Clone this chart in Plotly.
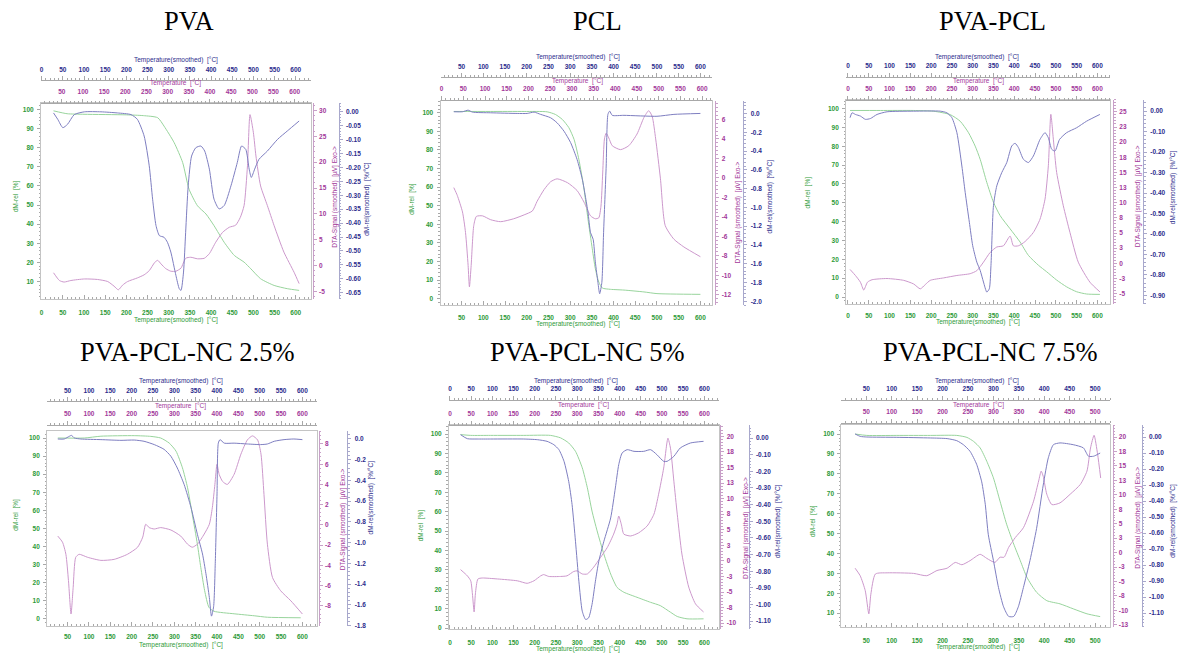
import math
import plotly.graph_objects as go

# ---------------- data ----------------
TITLES = ["PVA", "PCL", "PVA-PCL", "PVA-PCL-NC 2.5%", "PVA-PCL-NC 5%", "PVA-PCL-NC 7.5%"]

# PVA
PVA_TGA_T = [28, 60, 100, 200, 240, 274, 289, 313, 333, 348, 368, 388, 407, 431, 455, 478, 494, 517, 549, 580, 608]
PVA_TGA = [99.3, 97.8, 97.5, 97.2, 96.8, 95.7, 91.3, 82.6, 72.2, 58.3, 49.6, 45.3, 39.2, 30.5, 23.6, 20.1, 16.6, 11.4, 7.9, 6.2, 5.3]
PVA_DTA_T = [28, 42, 53, 69, 101, 132, 156, 171, 181, 191, 203, 226, 242, 254, 267, 274, 282, 293, 305, 317, 329, 340, 352, 368,
             384, 396, 411, 427, 443, 458, 469, 478, 486, 492, 500, 506, 517, 533, 549, 572, 596, 608]
PVA_DTA = [-1.4, -2.9, -3.2, -2.9, -2.6, -2.7, -3.1, -4.0, -4.7, -3.8, -3.1, -2.4, -1.8, -1.0, 0.6, 1.0, 0.3, -0.6, -1.1, -1.1,
           -0.5, 1.4, 1.6, 1.3, 1.4, 2.3, 4.5, 6.4, 7.4, 7.8, 9.3, 11.6, 19.3, 29.2, 25.7, 21.2, 15.4, 11.6, 7.7, 2.6, -1.3, -3.5]
PVA_DTG_T = [28, 38, 50, 61, 77, 101, 140, 179, 211, 226, 242, 254, 262, 270, 278, 289, 297, 305, 317, 325, 329, 335, 340, 346,
             354, 364, 376, 385, 396, 407, 419, 431, 447, 462, 472, 482, 490, 495, 503, 513, 533, 557, 580, 608]
PVA_DTG = [-0.004, -0.027, -0.057, -0.045, -0.010, 0.0, 0.0, -0.004, -0.010, -0.027, -0.087, -0.194, -0.314, -0.409, -0.445,
           -0.451, -0.469, -0.504, -0.588, -0.636, -0.642, -0.576, -0.433, -0.266, -0.159, -0.129, -0.123, -0.141, -0.206,
           -0.314, -0.349, -0.337, -0.266, -0.182, -0.123, -0.135, -0.206, -0.236, -0.206, -0.171, -0.141, -0.099, -0.069, -0.033]

# PCL
PCL_TGA_T = [32, 117, 194, 247, 266, 282, 297, 309, 320, 332, 341, 351, 358, 366, 374, 393, 424, 470, 500, 600]
PCL_TGA = [100.7, 100.7, 100.7, 100.5, 99.1, 96.4, 92.0, 85.7, 75.0, 58.9, 42.9, 26.8, 16.1, 8.9, 5.7, 5.0, 4.6, 3.6, 2.7, 2.3]
PCL_DTA_T = [32, 40, 52, 59, 65, 68, 72, 78, 84, 98, 117, 140, 170, 194, 213, 224, 240, 255, 270, 294, 316, 332, 347, 358, 366,
             371, 375, 379, 383, 389, 397, 416, 435, 454, 470, 481, 489, 497, 508, 519, 539, 562, 600]
PCL_DTA = [-1.0, -1.8, -3.5, -5.6, -9.0, -11.2, -9.0, -4.9, -3.96, -3.9, -4.3, -4.5, -4.2, -3.8, -3.4, -2.4, -1.2, -0.4, -0.1,
           -0.5, -1.3, -2.5, -3.9, -4.2, -4.1, -2.9, 0.5, 4.0, 4.6, 4.1, 3.3, 2.9, 3.3, 4.5, 6.2, 6.9, 6.3, 4.0, -0.1, -4.9,
           -6.3, -7.1, -8.1]
PCL_DTG_T = [32, 52, 65, 75, 117, 178, 201, 217, 232, 255, 270, 286, 301, 316, 328, 335, 341, 347, 353, 358, 364, 368, 373, 377,
             383, 387, 391, 397, 424, 500, 539, 600]
PCL_DTG = [0.018, 0.018, 0.035, 0.014, 0.007, 0.0, 0.0, 0.014, -0.010, -0.046, -0.10, -0.19, -0.31, -0.49, -0.70, -0.88, -1.05,
           -1.27, -1.34, -1.58, -1.80, -1.92, -1.80, -1.27, -0.56, -0.01, 0.025, -0.02, -0.02, -0.03, -0.01, 0.0]

# PVA-PCL
PP_TGA_T = [5, 78, 158, 206, 246, 270, 290, 306, 318, 334, 350, 366, 390, 414, 434, 458, 478, 502, 526, 550, 574, 606]
PP_TGA = [99.0, 99.0, 99.0, 98.6, 96.8, 93.3, 87.2, 80.1, 73.1, 60.8, 50.3, 43.2, 36.2, 29.2, 22.1, 16.9, 13.4, 9.0, 5.4, 2.8,
          1.6, 1.4]
PP_DTA_T = [5, 18, 30, 38, 47, 58, 94, 134, 158, 174, 186, 198, 230, 262, 294, 310, 326, 342, 358, 374, 390, 398, 410, 426, 446,
            462, 474, 482, 488, 494, 502, 518, 534, 554, 582, 606]
PP_DTA = [-1.0, -2.0, -3.1, -4.4, -3.1, -2.7, -2.5, -2.8, -3.4, -4.2, -3.5, -2.8, -2.4, -2.0, -1.7, -1.2, 0.2, 1.8, 2.7, 2.9,
          4.5, 2.9, 2.9, 3.6, 5.1, 7.3, 10.6, 16.1, 24.6, 20.5, 15.0, 9.5, 5.1, 0.2, -3.1, -4.7]
PP_DTG_T = [5, 10, 18, 30, 42, 54, 70, 94, 158, 222, 238, 250, 262, 274, 282, 292, 300, 310, 318, 326, 334, 340, 344, 350, 358,
            370, 382, 394, 402, 410, 422, 434, 446, 462, 474, 482, 490, 498, 509, 526, 550, 574, 606]
PP_DTG = [-0.032, -0.008, -0.016, -0.024, -0.040, -0.036, -0.016, -0.003, 0.0, 0.0, -0.008, -0.032, -0.105, -0.268, -0.397,
          -0.543, -0.657, -0.738, -0.778, -0.835, -0.884, -0.868, -0.754, -0.462, -0.365, -0.300, -0.251, -0.170, -0.157,
          -0.178, -0.235, -0.251, -0.219, -0.138, -0.105, -0.130, -0.186, -0.195, -0.138, -0.105, -0.081, -0.049, -0.016]

# PVA-PCL-NC 2.5%
NC25_TGA_T = [27, 89, 128, 206, 245, 268, 288, 304, 319, 331, 342, 354, 362, 371, 381, 393, 440, 487, 518, 596]
NC25_TGA = [100.0, 100.0, 101.0, 101.3, 100.9, 100.0, 97.2, 92.7, 83.5, 72.5, 57.8, 41.3, 28.4, 15.6, 6.4, 4.2, 2.8, 1.7, 0.9, 0.6]
NC25_DTA_T = [27, 38, 46, 52, 58, 63, 69, 77, 97, 128, 159, 190, 214, 226, 233, 241, 253, 268, 292, 315, 331, 342, 354, 370,
              382, 389, 395, 400, 405, 413, 424, 440, 456, 471, 483, 495, 503, 510, 518, 530, 549, 573, 600]
NC25_DTA = [-1.1, -1.7, -2.9, -5.5, -8.8, -6.2, -3.2, -2.9, -3.2, -3.5, -3.4, -2.9, -2.2, -1.2, 0.07, -0.26, -0.4, -0.26, -0.5,
            -1.1, -1.9, -2.2, -1.9, -0.9, 0.07, 1.7, 4.0, 6.0, 5.0, 4.3, 4.0, 5.0, 7.0, 8.4, 8.8, 8.4, 7.0, 3.0, -1.9, -5.2,
            -6.5, -7.5, -8.8]
NC25_DTG_T = [27, 42, 54, 59, 66, 81, 128, 175, 206, 229, 253, 276, 292, 307, 323, 339, 354, 366, 374, 382, 387, 392, 396, 400,
              403, 407, 417, 440, 471, 502, 518, 534, 557, 580, 600]
NC25_DTG = [0.0, 0.0, 0.026, 0.035, 0.010, 0.0, -0.006, -0.013, -0.010, -0.022, -0.054, -0.10, -0.167, -0.28, -0.44, -0.66,
            -0.92, -1.11, -1.30, -1.53, -1.71, -1.62, -1.18, -0.53, -0.04, -0.006, -0.04, -0.04, -0.048, -0.054, -0.048,
            -0.022, -0.006, 0.0, -0.006]

# PVA-PCL-NC 5%
NC5_TGA_T = [25, 49, 96, 174, 237, 261, 280, 296, 312, 324, 335, 347, 363, 379, 394, 410, 441, 473, 496, 520, 536, 559, 598]
NC5_TGA = [99.7, 99.3, 99.3, 99.3, 99.3, 98.0, 95.4, 91.1, 82.6, 72.3, 60.3, 50.1, 38.1, 27.9, 21.0, 18.5, 15.9, 13.3, 11.6, 8.2,
           6.0, 4.8, 4.8]
NC5_DTA_T = [25, 41, 49, 53, 57, 60, 66, 76, 112, 159, 182, 198, 214, 221, 233, 261, 276, 292, 300, 312, 324, 339, 355, 371,
             386, 394, 398, 404, 410, 426, 445, 465, 481, 492, 504, 514, 520, 528, 536, 547, 563, 579, 598]
NC5_DTA = [-1.4, -2.4, -3.2, -5.3, -8.2, -5.3, -2.9, -2.75, -2.9, -3.2, -3.6, -3.2, -2.4, -2.2, -2.5, -2.5, -2.4, -1.7, -1.6,
           -2.1, -2.1, -1.0, 0.55, 2.15, 4.3, 5.9, 7.2, 5.9, 4.3, 4.0, 4.5, 5.6, 7.5, 10.7, 14.9, 19.7, 18.1, 12.8, 7.5, 1.1,
           -4.2, -6.9, -8.2]
NC5_DTG_T = [25, 41, 64, 96, 174, 206, 229, 245, 257, 269, 280, 288, 296, 304, 312, 320, 327, 335, 343, 351, 363, 379, 390, 398,
             406, 418, 434, 457, 473, 488, 504, 512, 528, 543, 567, 598]
NC5_DTG = [0.02, -0.004, -0.006, -0.006, -0.006, -0.01, -0.02, -0.04, -0.07, -0.14, -0.26, -0.40, -0.62, -0.86, -1.04, -1.09,
           -1.08, -1.00, -0.86, -0.74, -0.62, -0.48, -0.30, -0.16, -0.09, -0.07, -0.08, -0.08, -0.07, -0.10, -0.14, -0.14,
           -0.11, -0.06, -0.03, -0.02]

# PVA-PCL-NC 7.5%
NC75_TGA_T = [28, 51, 110, 176, 228, 248, 261, 274, 287, 300, 313, 326, 340, 353, 366, 385, 405, 431, 457, 484, 510]
NC75_TGA = [100.0, 99.3, 99.3, 99.3, 99.3, 98.3, 96.3, 93.0, 86.3, 78.0, 66.3, 54.7, 44.7, 36.3, 28.0, 20.5, 16.3, 14.7, 12.2,
            9.7, 8.3]
NC75_DTA_T = [28, 38, 48, 55, 59, 68, 91, 143, 169, 189, 209, 225, 238, 254, 274, 287, 303, 313, 321, 330, 343, 359, 379, 389,
              394, 398, 405, 415, 431, 451, 471, 484, 491, 498, 505, 511]
NC75_DTA = [-2.7, -4.0, -6.6, -10.6, -7.2, -3.7, -3.5, -3.6, -4.0, -3.1, -2.7, -1.7, -2.1, -1.4, -0.3, -1.0, -1.7, -0.8, -0.8,
            0.9, 2.6, 4.3, 8.9, 12.4, 14.1, 13.2, 10.1, 8.3, 8.6, 10.1, 11.8, 14.1, 18.1, 20.3, 17.0, 12.9]
NC75_DTG_T = [28, 38, 51, 110, 176, 209, 228, 241, 254, 267, 277, 284, 290, 300, 310, 320, 330, 340, 349, 359, 372, 385, 398,
              408, 418, 431, 457, 477, 487, 497, 510]
NC75_DTG = [0.019, 0.004, 0.0, -0.002, -0.006, -0.01, -0.023, -0.048, -0.089, -0.17, -0.28, -0.42, -0.61, -0.77, -0.94, -1.06,
            -1.12, -1.12, -1.06, -0.94, -0.77, -0.57, -0.30, -0.13, -0.048, -0.037, -0.048, -0.068, -0.12, -0.12, -0.10]

SERIES = [
    (PVA_TGA_T, PVA_TGA, PVA_DTA_T, PVA_DTA, PVA_DTG_T, PVA_DTG),
    (PCL_TGA_T, PCL_TGA, PCL_DTA_T, PCL_DTA, PCL_DTG_T, PCL_DTG),
    (PP_TGA_T, PP_TGA, PP_DTA_T, PP_DTA, PP_DTG_T, PP_DTG),
    (NC25_TGA_T, NC25_TGA, NC25_DTA_T, NC25_DTA, NC25_DTG_T, NC25_DTG),
    (NC5_TGA_T, NC5_TGA, NC5_DTA_T, NC5_DTA, NC5_DTG_T, NC5_DTG),
    (NC75_TGA_T, NC75_TGA, NC75_DTA_T, NC75_DTA, NC75_DTG_T, NC75_DTG),
]

TXT_LEFT = "dM-rel  [%]"
TXT_DTA = "DTA-Signal (smoothed)  [µV] Exo->"
TXT_DTG = "dM-rel(smoothed)  [%/°C]"
TXT_TS = "Temperature(smoothed)  [°C]"
TXT_T = "Temperature  [°C]"

# ---------------- layout specs (pixels) ----------------
W, H = 1180, 662
PANELS = [
    dict(p0=40.7, s=0.42383, tr=(-1.5, 635), dp=2.5, yb=(103, 300), g=(0.99, 103.65), d=(-6.41, 31.54), m=(-0.6715, 0.0334),
         dstep=5, mstep=0.05, mdec=2, dx=312, mx=338, rb=80.5, rp=103, bso=8,
         tt=(188, 21), tb=(175, 60), tp=(175, 83), tbot=(175, 321), tl=(15, 197), td=(334, 198), tm=(366, 200)),
    dict(p0=439.27, s=0.43453, tr=(1.5, 627), dp=-4, yb=(101.7, 306.7), g=(-3.6, 106.2), d=(-13.09, 7.87), m=(-2.043, 0.130),
         dstep=2, mstep=0.2, mdec=1, dx=715, mx=743, rb=77.7, rp=100, bso=6,
         tt=(597, 21), tb=(577, 57), tp=(577, 81), tbot=(577, 325.5), tl=(411, 200), td=(738, 213), tm=(770, 197)),
    dict(p0=847.67, s=0.4161, tr=(-4.5, 630), dp=0, yb=(100, 305), g=(-3.5, 104.8), d=(-6.64, 27.03), m=(-0.9405, 0.0568),
         dstep=2.5, mstep=0.1, mdec=2, dx=1113, mx=1143, rb=77.3, rp=100, bso=6,
         tt=(992, 21), tb=(977, 57), tp=(978, 81), tbot=(978, 323.5), tl=(808, 193), td=(1138, 197), tm=(1173, 188)),
    dict(p0=45.3, s=0.42727, tr=(2, 635), dp=0, yb=(433.3, 628.5), g=(-3.76, 103.69), d=(-9.95, 9.25), m=(-1.802, 0.074),
         dstep=2, mstep=0.2, mdec=1, dx=318, mx=346.7, rb=403.3, rp=426.7, bso=5,
         tt=(186, 354), tb=(180, 383), tp=(180, 408), tbot=(180, 647.5), tl=(15, 517), td=(342, 522), tm=(370, 500)),
    dict(p0=449.33, s=0.42444, tr=(-2.4, 634), dp=0, yb=(427.3, 631.7), g=(-0.36, 104.46), d=(-10.91, 21.76), m=(-1.146, 0.076),
         dstep=2.5, mstep=0.1, mdec=2, dx=720, mx=748.3, rb=401.7, rp=426.7, bso=7,
         tt=(587, 354), tb=(575, 383), tp=(583, 407), tbot=(577, 652), tl=(420, 528), td=(745, 530), tm=(777, 523)),
    dict(p0=840.57, s=0.5089, tr=(1, 530), dp=0, yb=(426.7, 630), g=(3.0, 104.65), d=(-12.9, 22.12), m=(-1.187, 0.0764),
         dstep=2.5, mstep=0.1, mdec=2, dx=1112.5, mx=1141.7, rb=401.7, rp=425, bso=7,
         tt=(990, 354), tb=(977, 383), tp=(978, 407), tbot=(978, 650), tl=(812, 523), td=(1138, 520), tm=(1173, 523)),
]

GREEN_TXT = "#2e9a38"
PURPLE_TXT = "#a2389a"
BLUE_TXT = "#2c2c8c"
GREEN_LN = "#98d49c"
PURPLE_LN = "#cc98cc"
BLUE_LN = "#7e7ec0"
GRAY = "#a8a8a8"
BOX = "#c4c4c4"
PURPLE_AX = "#c8a0c8"
BLUE_AX = "#a8a8cc"
SANS = "Liberation Sans, Arial, sans-serif"
FS = 6.5


def pxx(x):
    return x / W


def pxy(y):
    return 1 - y / H


def tick_values(lo, hi, step):
    out = []
    k = math.ceil(lo / step - 1e-9)
    while k * step <= hi + 1e-9:
        out.append(round(k * step, 6))
        k += 1
    return out


def fmt_round(v):
    n = int(math.floor(abs(v) + 0.5 + 1e-9))
    return ("-" if v < 0 and n != 0 else "") + str(n)


def fmt_dec(v, d):
    s = f"{v:.{d}f}"
    if s.startswith("-") and float(s) == 0:
        s = s[1:]
    return s


def tfont(color):
    return dict(family=SANS, size=FS, color=color, weight="bold")


def name(prefix, n):
    return f"{prefix}axis" if n == 1 else f"{prefix}axis{n}"


def ref(prefix, n):
    return prefix if n == 1 else f"{prefix}{n}"


fig = go.Figure()
layout = dict(width=W, height=H, margin=dict(l=0, r=0, t=0, b=0), autosize=False,
              paper_bgcolor="white", plot_bgcolor="white", showlegend=False)
annotations = []

for i, (P, S, title) in enumerate(zip(PANELS, SERIES, TITLES)):
    k = 3 * i + 1
    xb, xt1, xt2 = ref("x", k), ref("x", k + 1), ref("x", k + 2)
    yl, yd, ym = ref("y", k), ref("y", k + 1), ref("y", k + 2)
    tmin, tmax = P["tr"]
    x0 = P["p0"] + P["s"] * tmin
    x1 = P["p0"] + P["s"] * tmax
    ytop, ybot = P["yb"]

    common_x = dict(showgrid=False, zeroline=False, tick0=0, dtick=50, tickformat="d")
    layout[name("x", k)] = dict(
        domain=[pxx(x0), pxx(x1)], range=[tmin, tmax], anchor=yl, side="bottom",
        showline=True, linecolor=BOX, linewidth=1, mirror=True,
        ticks="inside", ticklen=4, tickcolor=GRAY, tickfont=tfont(GREEN_TXT), ticklabelstandoff=int(P["bso"]),
        minor=dict(ticks="inside", dtick=10, ticklen=2, tickcolor=GRAY), **common_x)
    layout[name("x", k + 1)] = dict(
        overlaying=xb, anchor="free", position=pxy(P["rb"]), side="top", range=[tmin, tmax],
        showline=True, linecolor=GRAY, linewidth=1,
        ticks="outside", ticklen=4, tickcolor=GRAY, tickfont=tfont(BLUE_TXT), ticklabelstandoff=2,
        minor=dict(ticks="outside", dtick=10, ticklen=2, tickcolor=GRAY), **common_x)
    layout[name("x", k + 2)] = dict(
        overlaying=xb, anchor="free", position=pxy(P["rp"]), side="top",
        range=[tmin + P["dp"], tmax + P["dp"]],
        showline=True, linecolor=GRAY, linewidth=1,
        ticks="outside", ticklen=4, tickcolor=GRAY, tickfont=tfont(PURPLE_TXT), ticklabelstandoff=2,
        minor=dict(ticks="outside", dtick=10, ticklen=2, tickcolor=GRAY), **common_x)

    glo, ghi = P["g"]
    layout[name("y", k)] = dict(
        domain=[pxy(ybot), pxy(ytop)], range=[glo, ghi], anchor=xb, side="left",
        showline=True, linecolor=BOX, linewidth=1, mirror=True,
        ticks="outside", ticklen=3, tickcolor=GRAY, tick0=0, dtick=10, tickformat="d",
        tickfont=tfont(GREEN_TXT), ticklabelstandoff=2,
        minor=dict(ticks="outside", tick0=0, dtick=2, ticklen=1.5, tickcolor=GRAY),
        showgrid=False, zeroline=False)

    dlo, dhi = P["d"]
    dv = tick_values(dlo, dhi, P["dstep"])
    layout[name("y", k + 1)] = dict(
        overlaying=yl, anchor="free", position=pxx(P["dx"]), side="right", range=[dlo, dhi],
        showline=True, linecolor=PURPLE_AX, linewidth=1,
        ticks="outside", ticklen=3, tickcolor=PURPLE_AX,
        tickmode="array", tickvals=dv, ticktext=[fmt_round(v) for v in dv],
        tickfont=tfont(PURPLE_TXT), ticklabelstandoff=1,
        minor=dict(ticks="outside", tickmode="linear", tick0=0, dtick=P["dstep"] / 5, ticklen=1.5, tickcolor=PURPLE_AX),
        showgrid=False, zeroline=False)

    mlo, mhi = P["m"]
    mv = tick_values(mlo, mhi, P["mstep"])
    layout[name("y", k + 2)] = dict(
        overlaying=yl, anchor="free", position=pxx(P["mx"]), side="right", range=[mlo, mhi],
        showline=True, linecolor=BLUE_AX, linewidth=1,
        ticks="outside", ticklen=3, tickcolor=BLUE_AX,
        tickmode="array", tickvals=mv, ticktext=[fmt_dec(v, P["mdec"]) for v in mv],
        tickfont=tfont(BLUE_TXT), ticklabelstandoff=2,
        minor=dict(ticks="outside", tickmode="linear", tick0=0, dtick=P["mstep"] / 5, ticklen=1.5, tickcolor=BLUE_AX),
        showgrid=False, zeroline=False)

    tga_t, tga, dta_t, dta, dtg_t, dtg = S
    line_kw = dict(mode="lines", hoverinfo="skip", showlegend=False)
    # invisible carriers so the two top temperature axes are drawn
    fig.add_trace(go.Scatter(x=tga_t, y=tga, xaxis=xt1, yaxis=yl, opacity=0, **line_kw))
    fig.add_trace(go.Scatter(x=tga_t, y=tga, xaxis=xt2, yaxis=yl, opacity=0, **line_kw))
    fig.add_trace(go.Scatter(x=tga_t, y=tga, xaxis=xb, yaxis=yl,
                             line=dict(color=GREEN_LN, width=1, shape="spline", smoothing=0.6), **line_kw))
    fig.add_trace(go.Scatter(x=dta_t, y=dta, xaxis=xb, yaxis=yd,
                             line=dict(color=PURPLE_LN, width=1, shape="spline", smoothing=0.6), **line_kw))
    fig.add_trace(go.Scatter(x=dtg_t, y=dtg, xaxis=xb, yaxis=ym,
                             line=dict(color=BLUE_LN, width=1, shape="spline", smoothing=0.6), **line_kw))

    def ann(pos, text, color, angle=0, size=FS, family=SANS):
        annotations.append(dict(x=pxx(pos[0]), y=pxy(pos[1]), xref="paper", yref="paper", text=text,
                                showarrow=False, xanchor="center", yanchor="middle", textangle=angle,
                                font=dict(family=family, size=size, color=color)))

    ann(P["tt"], title, "black", size=26.5, family="Liberation Serif, Times New Roman, serif")
    ann(P["tb"], TXT_TS, BLUE_TXT)
    ann(P["tp"], TXT_T, PURPLE_TXT)
    ann(P["tbot"], TXT_TS, GREEN_TXT)
    ann(P["tl"], TXT_LEFT, GREEN_TXT, angle=-90)
    ann(P["td"], TXT_DTA, PURPLE_TXT, angle=-90)
    ann(P["tm"], TXT_DTG, BLUE_TXT, angle=-90)

layout["annotations"] = annotations
fig.update_layout(**layout)
# the page's default 8px body margin would shift the whole figure; remove it
fig.write_html("out.html", config={"displayModeBar": False},
               post_script="document.body.style.margin='0';")
